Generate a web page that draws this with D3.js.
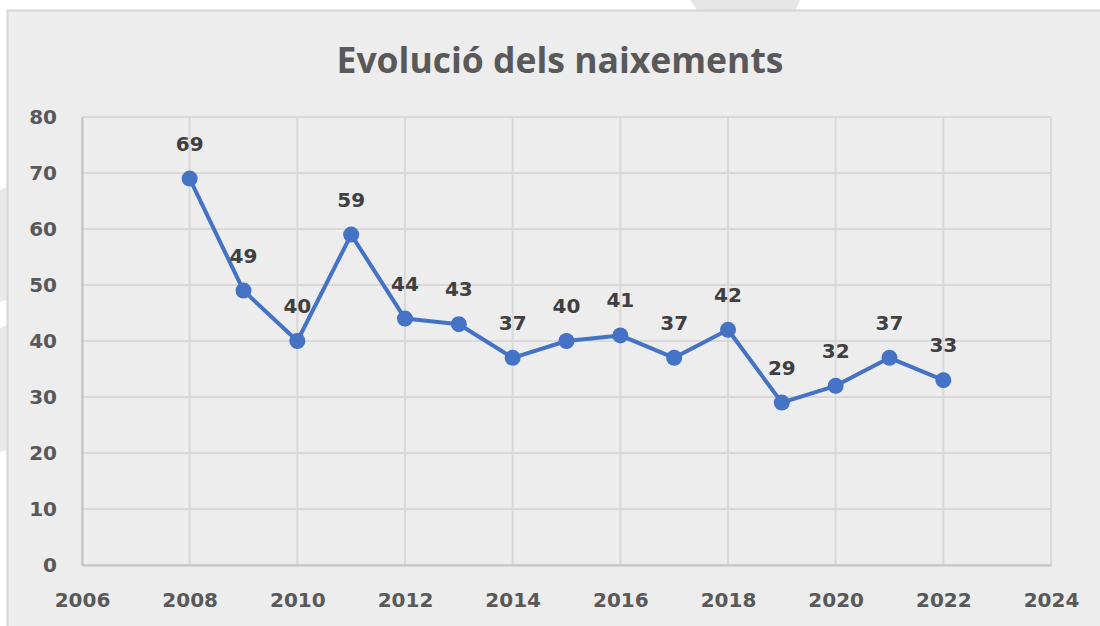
<!DOCTYPE html>
<html>
<head>
<meta charset="utf-8">
<script src="https://cdn.jsdelivr.net/npm/d3@7"></script>
<style>
  html, body { margin: 0; padding: 0; background: #fff; }
  svg { display: block; font-family: "Open Sans", sans-serif; }
</style>
</head>
<body>
<svg id="chart"></svg>
<script>
'use strict';

var years = [2008, 2009, 2010, 2011, 2012, 2013, 2014, 2015, 2016, 2017, 2018, 2019, 2020, 2021, 2022];
var births = [69, 49, 40, 59, 44, 43, 37, 40, 41, 37, 42, 29, 32, 37, 33];
var xTicks = [2006, 2008, 2010, 2012, 2014, 2016, 2018, 2020, 2022, 2024];
var yTicks = [0, 10, 20, 30, 40, 50, 60, 70, 80];
var title = 'Evolució dels naixements';

function render() {
    var w = 1100;
    var h = 626;
    var d3 = window.d3;
    var labelFont = '"DejaVu Sans", sans-serif';

    var svg = d3.select('#chart').attr('width', w).attr('height', h);

    // faint background shapes outside the chart frame
    svg.append('path')
        .attr('d', 'M690,0 L800,0 L794,14 L700,14 Z')
        .attr('fill', '#e6e6e6');
    svg.append('path')
        .attr('d', 'M0,190 Q4,188 10,186 L10,300 Q4,300 0,302 Z')
        .attr('fill', '#e8e8e8');
    svg.append('path')
        .attr('d', 'M0,328 Q4,326 10,324 L10,450 Q4,450 0,452 Z')
        .attr('fill', '#e8e8e8');

    // chart frame
    svg.append('rect')
        .attr('x', 7.5).attr('y', 10.5)
        .attr('width', w).attr('height', h)
        .attr('fill', '#ededed')
        .attr('stroke', '#d6d6d6')
        .attr('stroke-width', 2);

    svg.append('text')
        .attr('x', 560).attr('y', 73)
        .attr('text-anchor', 'middle')
        .attr('font-size', 35.5)
        .attr('font-weight', 'bold')
        .attr('fill', '#595959')
        .text(title);

    var x = d3.scaleLinear().domain([2006, 2024]).range([82, 1051]);
    var y = d3.scaleLinear().domain([0, 80]).range([565, 117]);

    // grid
    var grid = svg.append('g');
    grid.selectAll('.hg').data(yTicks).enter().append('line')
        .attr('x1', x(2006)).attr('x2', x(2024))
        .attr('y1', function (d) { return y(d); })
        .attr('y2', function (d) { return y(d); })
        .attr('stroke', '#d9d9d9').attr('stroke-width', 2);
    grid.selectAll('.vg').data(xTicks).enter().append('line')
        .attr('y1', y(0)).attr('y2', y(80))
        .attr('x1', function (d) { return x(d); })
        .attr('x2', function (d) { return x(d); })
        .attr('stroke', '#d9d9d9').attr('stroke-width', 2);

    // axes
    var yAxis = svg.append('g')
        .attr('transform', 'translate(' + x(2006) + ',0)')
        .call(d3.axisLeft(y).tickValues(yTicks).tickSize(0).tickPadding(25));
    var xAxis = svg.append('g')
        .attr('transform', 'translate(0,' + y(0) + ')')
        .call(d3.axisBottom(x).tickValues(xTicks).tickFormat(d3.format('d')).tickSize(0).tickPadding(28));

    [yAxis, xAxis].forEach(function (a) {
        a.select('.domain').attr('stroke', '#c4c4c4').attr('stroke-width', 2);
        a.selectAll('text')
            .attr('font-size', 20)
            .attr('font-weight', 'bold')
            .attr('fill', '#595959')
            .attr('font-family', labelFont);
    });

    var points = years.map(function (yr, i) { return { year: yr, value: births[i] }; });

    var line = d3.line()
        .x(function (d) { return x(d.year); })
        .y(function (d) { return y(d.value); });

    svg.append('path')
        .datum(points)
        .attr('d', line)
        .attr('fill', 'none')
        .attr('stroke', '#4472c4')
        .attr('stroke-width', 4)
        .attr('stroke-linejoin', 'round');

    svg.selectAll('.dot').data(points).enter().append('circle')
        .attr('cx', function (d) { return x(d.year); })
        .attr('cy', function (d) { return y(d.value); })
        .attr('r', 8)
        .attr('fill', '#4472c4');

    svg.selectAll('.lbl').data(points).enter().append('text')
        .attr('x', function (d) { return x(d.year); })
        .attr('y', function (d) { return y(d.value) - 28; })
        .attr('text-anchor', 'middle')
        .attr('font-size', 20)
        .attr('font-weight', 'bold')
        .attr('font-family', labelFont)
        .attr('fill', '#404040')
        .text(function (d) { return d.value; });
}

render();
</script>
</body>
</html>
